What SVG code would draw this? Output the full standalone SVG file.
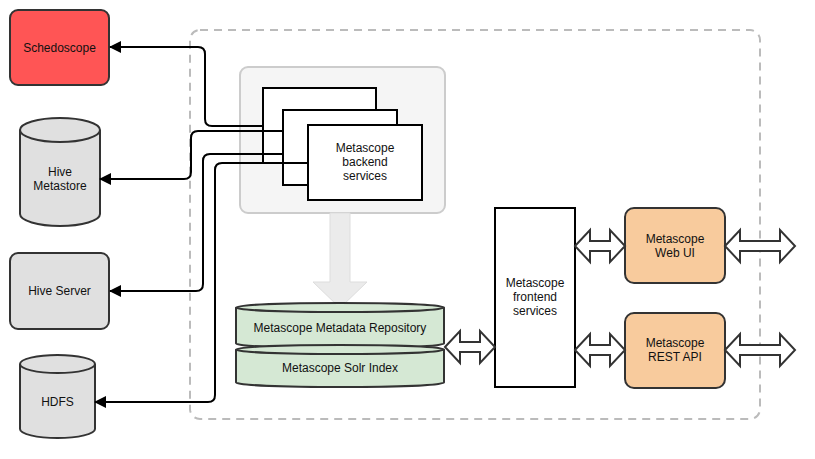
<svg xmlns="http://www.w3.org/2000/svg" width="815" height="459" viewBox="0 0 815 459">
<style>
text{font-family:"Liberation Sans",Arial,sans-serif;font-size:12px;fill:#111;text-anchor:middle}
.n{stroke:#333;stroke-width:2}
.box{fill:#fff;stroke:#000;stroke-width:2}
.conn{fill:none;stroke:#000;stroke-width:2}
.dbl{fill:#fff;stroke:#333;stroke-width:2;stroke-linejoin:miter}
</style>
<defs>
<marker id="ah" markerWidth="12" markerHeight="12" refX="11" refY="6" orient="auto" markerUnits="userSpaceOnUse"><path d="M0,0 L12,6 L0,12 Z" fill="#000"/></marker>
</defs>
<rect id="container" x="190" y="30" width="570" height="389" rx="10" fill="none" stroke="#BBB" stroke-width="2" stroke-dasharray="8 6"/>
<g id="schedoscope"><rect x="10" y="10" width="99" height="75" rx="8" fill="#FF5555" class="n"/><text x="59.5" y="51.5">Schedoscope</text></g>
<g id="hive-metastore"><path d="M20,130 A40,12 0 0 1 100,130 L100,214 A40,12 0 0 1 20,214 Z" fill="#E0E0E0" class="n"/><path d="M20,130 A40,12 0 0 0 100,130" fill="none" class="n"/><text x="60" y="176">Hive</text><text x="60" y="190">Metastore</text></g>
<g id="hive-server"><rect x="10" y="253" width="99" height="76" rx="8" fill="#E0E0E0" class="n"/><text x="59.5" y="295">Hive Server</text></g>
<g id="hdfs"><path d="M20,364 A37.5,9 0 0 1 95,364 L95,429 A37.5,9 0 0 1 20,429 Z" fill="#E0E0E0" class="n"/><path d="M20,364 A37.5,9 0 0 0 95,364" fill="none" class="n"/><text x="57.5" y="406">HDFS</text></g>
<g id="backend-group"><rect x="240" y="67" width="205" height="146" rx="8" fill="#F5F5F5" stroke="#CCC" stroke-width="2"/></g>
<g id="backend-services">
<rect x="263" y="88" width="113" height="75" class="box"/>
<rect x="283" y="110" width="114" height="75" class="box"/>
<rect x="308" y="125" width="114" height="75" class="box"/>
<text x="365" y="152">Metascope</text><text x="365" y="166">backend</text><text x="365" y="180">services</text>
</g>
<g id="load-arrow"><path d="M330,213 L350,213 L350,282 L367,282 L340,308 L313,282 L330,282 Z" fill="#EBEBEB" stroke="#DDD" stroke-width="1"/></g>
<g id="metadata-repository"><path d="M236,307.5 A104,4.5 0 0 1 444,307.5 L444,343.5 A104,4.5 0 0 1 236,343.5 Z" fill="#D5E8D4" class="n"/><path d="M236,307.5 A104,4.5 0 0 0 444,307.5" fill="none" class="n"/><text x="340" y="332">Metascope Metadata Repository</text></g>
<g id="solr-index"><path d="M236,349.5 A104,4.5 0 0 1 444,349.5 L444,382.5 A104,4.5 0 0 1 236,382.5 Z" fill="#D5E8D4" class="n"/><path d="M236,349.5 A104,4.5 0 0 0 444,349.5" fill="none" class="n"/><text x="340" y="372">Metascope Solr Index</text></g>
<g id="frontend-services"><rect x="495" y="208" width="80" height="179" class="box"/><text x="535" y="287">Metascope</text><text x="535" y="301">frontend</text><text x="535" y="315">services</text></g>
<g id="web-ui"><rect x="625" y="208" width="100" height="75" rx="9" fill="#F8CB9D" class="n"/><text x="675" y="243">Metascope</text><text x="675" y="257">Web UI</text></g>
<g id="rest-api"><rect x="625" y="313" width="100" height="75" rx="9" fill="#F8CB9D" class="n"/><text x="675" y="347">Metascope</text><text x="675" y="361">REST API</text></g>
<g id="connectors">
<path class="conn" d="M263,126 L212,126 Q205,126 205,119 L205,54 Q205,47 198,47 L110,47" marker-end="url(#ah)"/>
<path class="conn" d="M283,131 L198,131 Q191,131 191,138 L191,172 Q191,179 184,179 L100,179" marker-end="url(#ah)"/>
<path class="conn" d="M283,154 L210,154 Q203,154 203,161 L203,284 Q203,291 196,291 L110,291" marker-end="url(#ah)"/>
<path class="conn" d="M308,163 L222,163 Q215,163 215,170 L215,395 Q215,402 208,402 L95,402" marker-end="url(#ah)"/>
<path class="dbl" d="M445,347 L460,331 L460,342 L480,342 L480,331 L495,347 L480,363 L480,352 L460,352 L460,363 Z"/>
<path class="dbl" d="M575,246 L590,230 L590,241 L610,241 L610,230 L625,246 L610,262 L610,251 L590,251 L590,262 Z"/>
<path class="dbl" d="M575,350 L590,334 L590,345 L610,345 L610,334 L625,350 L610,366 L610,355 L590,355 L590,366 Z"/>
<path class="dbl" d="M725,246 L740,230 L740,241 L780,241 L780,230 L795,246 L780,262 L780,251 L740,251 L740,262 Z"/>
<path class="dbl" d="M725,350 L740,334 L740,345 L780,345 L780,334 L795,350 L780,366 L780,355 L740,355 L740,366 Z"/>
</g>
</svg>
